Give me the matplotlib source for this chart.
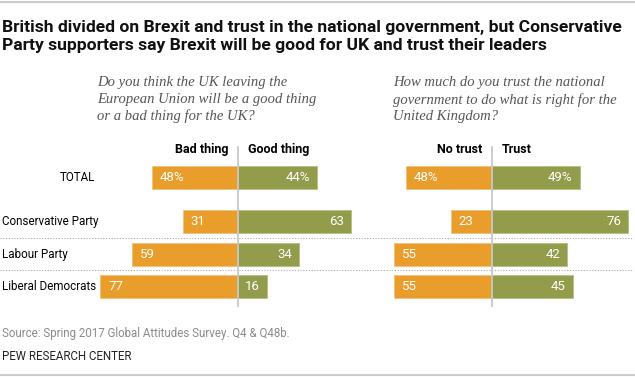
import matplotlib.pyplot as plt
import matplotlib.transforms as mtransforms
import numpy as np

# --- data ---
groups = ['TOTAL', 'Conservative Party', 'Labour Party', 'Liberal Democrats']
brexit_bad = [48, 31, 59, 77]
brexit_good = [44, 63, 34, 16]
trust_no = [48, 23, 55, 55]
trust_yes = [49, 76, 42, 45]

title = ('British divided on Brexit and trust in the national government, but Conservative\n'
         'Party supporters say Brexit will be good for UK and trust their leaders')
q_left = 'Do you think the UK leaving the\nEuropean Union will be a good thing\nor a bad thing for the UK?'
q_right = 'How much do you trust the national\ngovernment to do what is right for the\nUnited Kingdom?'
heads_left = ['Bad thing', 'Good thing']
heads_right = ['No trust', 'Trust']
source = 'Source: Spring 2017 Global Attitudes Survey. Q4 & Q48b.'
credit = 'PEW RESEARCH CENTER'

ORANGE = '#E99D2B'
GREEN = '#939C4A'
SANS = ['Roboto', 'DejaVu Sans']
SERIF = ['Liberation Serif', 'DejaVu Serif']

W, H = 635, 377
fig = plt.figure(figsize=(W / 100, H / 100), dpi=100)

# background axes in pixel coordinates for free text / rules
bg = fig.add_axes([0, 0, 1, 1])
bg.set_xlim(0, W)
bg.set_ylim(H, 0)
bg.axis('off')

# row positions (TOTAL has extra space below)
ypos = np.array([0, 1.35, 2.35, 3.35])
ylim = (4.07, -1.16)
scale = 1.79  # px per percentage point
y_top, y_bot = 140, 310


def make_axes(center_px, lo, hi):
    left = center_px - lo * scale
    right = center_px + hi * scale
    ax = fig.add_axes([left / W, 1 - y_bot / H, (right - left) / W, (y_bot - y_top) / H])
    ax.set_xlim(-lo, hi)
    ax.set_ylim(*ylim)
    ax.axis('off')
    return ax


def draw_panel(ax, neg, pos, heads):
    neg = np.array(neg)
    pos = np.array(pos)
    ax.barh(ypos, -neg, height=0.71, color=ORANGE, edgecolor='#F2C27C', linewidth=0.6)
    ax.barh(ypos, pos, height=0.71, color=GREEN, edgecolor='#B7BD84', linewidth=0.6)
    ax.plot([0, 0], [-0.95, 3.94], color='#C8C8C8', lw=1.3, zorder=5)
    for i, (n, p) in enumerate(zip(neg, pos)):
        sfx = '%' if i == 0 else ''
        ax.annotate(f'{n}{sfx}', (-n, ypos[i]), xytext=(8, 0), textcoords='offset pixels',
                    ha='left', va='center', color='white', fontsize=9.5, family=SANS,
                    annotation_clip=False)
        ax.annotate(f'{p}{sfx}', (p, ypos[i]), xytext=(-7, 0), textcoords='offset pixels',
                    ha='right', va='center', color='white', fontsize=9.5, family=SANS,
                    annotation_clip=False)
    ax.annotate(heads[0], (0, -0.88), xytext=(-10, 0), textcoords='offset pixels',
                ha='right', va='center', fontsize=9, fontweight='bold', family=SANS)
    ax.annotate(heads[1], (0, -0.88), xytext=(10, 0), textcoords='offset pixels',
                ha='left', va='center', fontsize=9, fontweight='bold', family=SANS)


ax1 = make_axes(238, 85, 70)
ax2 = make_axes(492, 60, 79)
draw_panel(ax1, brexit_bad, brexit_good, heads_left)
draw_panel(ax2, trust_no, trust_yes, heads_right)

# dotted separators across the full width
tr = mtransforms.blended_transform_factory(fig.transFigure, ax1.transData)
for y in [1.85, 2.85]:
    fig.add_artist(plt.Line2D([0, 0.997], [y, y], transform=tr, color='#AAAAAA',
                              lw=0.8, linestyle=(0, (1, 1.5)), zorder=0))

# row labels
for i, g in enumerate(groups):
    if i == 0:
        fig.text(95 / W, ypos[i], g, transform=tr, ha='right', va='center',
                 fontsize=8.4, family=SANS)
    else:
        fig.text(2 / W, ypos[i], g, transform=tr, ha='left', va='center',
                 fontsize=8.4, family=SANS)

# title, questions, footer
bg.text(2, 20, title, ha='left', va='top', fontsize=12.6, fontweight='bold',
        family=SANS, linespacing=1.22, color='#111111')
bg.text(97, 76, q_left, ha='left', va='top', fontsize=10.5, style='italic',
        family=SERIF, color='#555555', linespacing=1.36)
bg.text(393, 76, q_right, ha='left', va='top', fontsize=10.5, style='italic',
        family=SERIF, color='#555555', linespacing=1.36)
bg.text(2, 334, source, ha='left', va='center', fontsize=8.3, family=SANS, color='#8A8A8A')
bg.text(2, 356, credit, ha='left', va='center', fontsize=8.3, family=SANS, color='#222222')
bg.plot([0, W], [2, 2], color='#CCCCCC', lw=1.5)
bg.plot([0, W], [375, 375], color='#CCCCCC', lw=1.5)

fig.savefig('out.png', dpi=100)
